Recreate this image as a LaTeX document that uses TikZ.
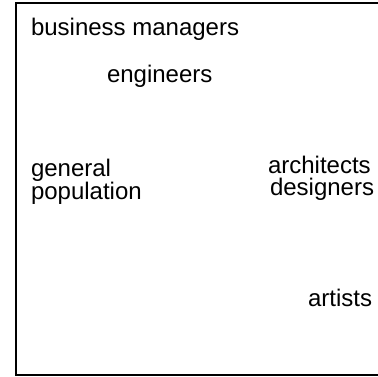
\documentclass[tikz,border=0pt]{standalone}
\usepackage{fontspec}
\setmainfont{Liberation Sans}
\begin{document}
\begin{tikzpicture}[x=1pt,y=-1pt,
  lbl/.style={inner sep=0pt,outer sep=0pt,font=\fontsize{24}{26}\selectfont,anchor=base west},
  frame/.style={draw=black,line width=2pt}]
  \useasboundingbox (0,0) rectangle (378,376);
  \clip (0,0) rectangle (378,376);
  % frame, open past the right side
  \draw[frame] (15.5,2.5) rectangle (400,374.5);
  \node[lbl] (bm)  at (31,35)    {business managers};
  \node[lbl] (eng) at (107,82)   {engineers};
  \node[lbl] (gen) at (31,176.5) {general};
  \node[lbl] (pop) at (31,199)   {population};
  \node[lbl] (arc) at (268,173.3){architects};
  \node[lbl] (des) at (270,195.5){designers};
  \node[lbl] (art) at (308,306)  {artists};
\end{tikzpicture}
\end{document}
